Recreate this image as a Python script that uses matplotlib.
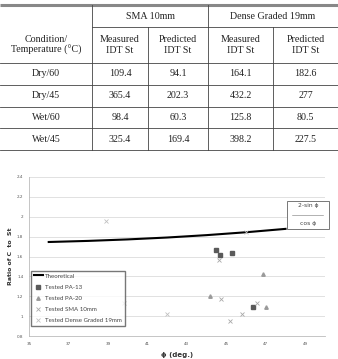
import matplotlib
matplotlib.use("Agg")
from matplotlib import pyplot as plt
from matplotlib.patches import Rectangle

# ---- table data ----
col_groups = ["SMA 10mm", "Dense Graded 19mm"]
col_heads = ["Measured\nIDT St", "Predicted\nIDT St", "Measured\nIDT St", "Predicted\nIDT St"]
row_head = "Condition/\nTemperature (\u00b0C)"
conditions = ["Dry/60", "Dry/45", "Wet/60", "Wet/45"]
sma_measured = ["109.4", "365.4", "98.4", "325.4"]
sma_predicted = ["94.1", "202.3", "60.3", "169.4"]
dense_measured = ["164.1", "432.2", "125.8", "398.2"]
dense_predicted = ["182.6", "277", "80.5", "227.5"]

# ---- chart data ----
theo_phi = [36, 38, 40, 42, 44, 46, 48]
theo_ratio = [1.746, 1.757, 1.772, 1.791, 1.815, 1.844, 1.878]
pa13_phi = [44.47, 44.68, 45.28, 46.36]
pa13_ratio = [1.665, 1.612, 1.638, 1.095]
pa20_phi = [44.16, 46.86, 47.01]
pa20_ratio = [1.20, 1.42, 1.09]
sma_phi = [44.63, 44.73, 45.21, 45.77, 46.55]
sma_ratio = [1.56, 1.17, 0.955, 1.02, 1.135]
dense_phi = [38.92, 39.80, 41.97, 45.99]
dense_ratio = [1.955, 1.13, 1.02, 1.85]

W, H = 338, 359
fig = plt.figure(figsize=(W / 100, H / 100), dpi=100)

# ---------------- chart ----------------
ax = fig.add_axes([29 / W, (H - 336) / H, (325 - 29) / W, (336 - 177) / H])
ax.set_xlim(35, 50)
ax.set_ylim(0.8, 2.4)
ax.set_xticks([35, 37, 39, 41, 43, 45, 47, 49])
ax.set_yticks([0.8, 1, 1.2, 1.4, 1.6, 1.8, 2, 2.2, 2.4])
ax.set_yticklabels(["0.8", "1", "1.2", "1.4", "1.6", "1.8", "2", "2.2", "2.4"])
ax.tick_params(labelsize=3, length=0, pad=4, colors="#555")
ax.grid(axis="y", color="#dcdcdc", linewidth=0.6)
ax.set_axisbelow(True)
for s in ["top", "right"]:
    ax.spines[s].set_visible(False)
for s in ["left", "bottom"]:
    ax.spines[s].set_color("#bbbbbb")
    ax.spines[s].set_linewidth(0.6)

ax.plot(theo_phi, theo_ratio, color="black", linewidth=1.5, label="Theoretical")
ax.plot(pa13_phi, pa13_ratio, ls="none", marker="s", ms=3, color="#5a5a5a", label="Tested PA-13")
ax.plot(pa20_phi, pa20_ratio, ls="none", marker="^", ms=2.5, color="#9a9a9a", label="Tested PA-20")
ax.plot(sma_phi, sma_ratio, ls="none", marker="x", ms=3, mew=0.6, color="#a8a8a8", label="Tested SMA 10mm")
ax.plot(dense_phi, dense_ratio, ls="none", marker="x", ms=2.5, mew=0.6, color="#c0c0c0",
        label="Tested Dense Graded 19mm")

leg = ax.legend(loc="lower left", bbox_to_anchor=(0.006, 0.065), borderaxespad=0,
                prop={"family": "Lato", "size": 4.4}, frameon=True, fancybox=False,
                handlelength=1.6, handletextpad=0.3, labelspacing=0.95, borderpad=0.45)
leg.get_frame().set_edgecolor("#555555")
leg.get_frame().set_linewidth(1.0)
for t in leg.get_texts():
    t.set_color("#444444")

ax.set_xlabel("\u03d5 (deg.)", fontsize=5, fontweight="bold", color="#333", labelpad=5)
ax.set_ylabel("Ratio of C  to  St", fontsize=4.5, fontweight="bold", color="#333", labelpad=3)

# ---------------- overlay in pixel coordinates ----------------
ov = fig.add_axes([0, 0, 1, 1])
ov.set_xlim(0, W)
ov.set_ylim(H, 0)
ov.axis("off")
ov.patch.set_alpha(0)

# formula box
ov.add_patch(Rectangle((287, 201), 42, 28, facecolor="white", edgecolor="#777", linewidth=0.7))
ov.text(308, 206, "2-sin \u03d5", ha="center", va="center", fontsize=4.3, color="#444")
ov.plot([292, 323], [215, 215], color="#777", linewidth=0.4)
ov.text(308, 224, "cos \u03d5", ha="center", va="center", fontsize=4.3, color="#444")

# table
serif = "Liberation Serif"
fs = 7.2
xs = [0, 92, 148, 208, 273, 338]
ys = [5, 27, 63, 85, 107, 128, 150]

ov.plot([0, W], [ys[0], ys[0]], color="#888", linewidth=2.2, solid_capstyle="butt")
ov.plot([92, W], [ys[1], ys[1]], color="#444", linewidth=0.6)
for y in ys[2:]:
    ov.plot([0, W], [y, y], color="#444", linewidth=0.6)
ov.plot([92, 92], [ys[0], ys[-1]], color="#444", linewidth=0.6)
ov.plot([208, 208], [ys[0], ys[-1]], color="#444", linewidth=0.6)
ov.plot([148, 148], [ys[1], ys[-1]], color="#444", linewidth=0.6)
ov.plot([273, 273], [ys[1], ys[-1]], color="#444", linewidth=0.6)

ov.text((92 + 208) / 2, 16.5, col_groups[0], ha="center", va="center", fontsize=fs, family=serif, color="#222")
ov.text((208 + 338) / 2, 16.5, col_groups[1], ha="center", va="center", fontsize=fs, family=serif, color="#222")
ov.text(46, 45, row_head, ha="center", va="center", fontsize=fs, family=serif, color="#222", linespacing=1.25)
for i, h in enumerate(col_heads):
    ov.text((xs[i + 1] + xs[i + 2]) / 2, 45, h, ha="center", va="center", fontsize=fs,
            family=serif, color="#222", linespacing=1.25)

cols = [conditions, sma_measured, sma_predicted, dense_measured, dense_predicted]
for r in range(len(conditions)):
    yc = (ys[r + 2] + ys[r + 3]) / 2
    for c, vals in enumerate(cols):
        ov.text((xs[c] + xs[c + 1]) / 2, yc, vals[r], ha="center", va="center", fontsize=fs,
                family=serif, color="#222")

fig.savefig("out.png", dpi=100)
